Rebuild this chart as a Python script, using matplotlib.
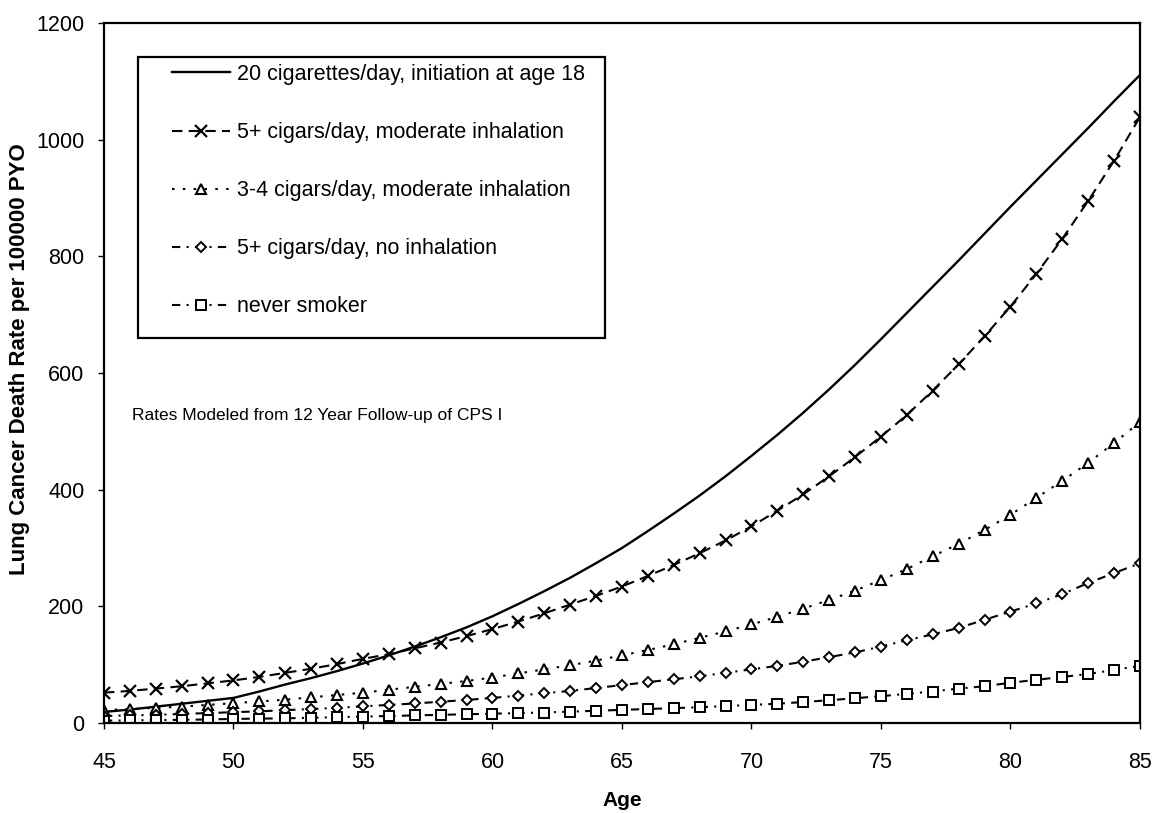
import matplotlib
matplotlib.use("Agg")
import matplotlib.pyplot as plt
from matplotlib.patches import Rectangle

plt.rcParams['font.family'] = ['Liberation Sans', 'DejaVu Sans']

# ages 45..85
ages = list(range(45, 86))

cigarettes = [19, 23, 28, 33, 38, 43, 54, 66, 77, 89, 102, 116, 131, 147, 164,
              183, 204, 226, 249, 274, 300, 329, 359, 390, 423, 458, 494, 532,
              572, 614, 658, 703, 748, 793, 839, 885, 930, 975, 1020, 1066, 1111]

cigars5_mod = [52, 55, 59, 63, 68, 73, 79, 86, 93, 101, 110, 118, 128, 138, 149,
               161, 174, 188, 203, 218, 234, 252, 271, 291, 313, 337, 364, 392,
               423, 456, 491, 528, 570, 615, 663, 714, 770, 830, 895, 964, 1039]

cigars34_mod = [22, 24, 26, 28, 31, 34, 37, 40, 44, 48, 52, 57, 62, 67, 72,
                78, 85, 92, 99, 107, 116, 125, 135, 146, 157, 169, 182, 196,
                211, 227, 245, 264, 286, 307, 331, 357, 386, 415, 446, 480, 516]

cigars5_noinh = [12, 13, 14, 15.5, 17, 18.5, 20, 22, 24, 26, 28.5, 31, 33.5, 36.5,
                 39.5, 43, 47, 51, 55, 60, 65, 70, 75, 80, 86, 92, 98, 105, 113,
                 121, 131, 142, 152, 163, 177, 191, 205, 221, 240, 257, 274]

never = [4, 4.5, 5, 5.5, 6, 7, 7.5, 8, 9, 10, 11, 12, 13, 14, 15, 16, 17, 18,
         19.5, 21, 22.5, 24, 25.5, 27, 29, 31, 33, 36, 39, 42.5, 46, 50, 54,
         59, 63, 69, 74, 79, 84, 91, 98]

labels = ['20 cigarettes/day, initiation at age 18',
          '5+ cigars/day, moderate inhalation',
          '3-4 cigars/day, moderate inhalation',
          '5+ cigars/day, no inhalation',
          'never smoker']

fig = plt.figure(figsize=(11.55, 8.13), dpi=100)
ax = fig.add_axes([0.090, 0.1107, 0.897, 0.861])

ax.plot(ages, cigarettes, color='black', lw=1.7, label=labels[0])
ax.plot(ages, cigars5_mod, color='black', lw=1.5, ls=(0, (5, 3)),
        marker='x', ms=8, mew=1.6, label=labels[1])
ax.plot(ages, cigars34_mod, color='black', lw=1.5, ls=(0, (1.2, 4)),
        marker='^', ms=6.5, mew=1.5, mfc='white', label=labels[2])
ax.plot(ages, cigars5_noinh, color='black', lw=1.5, ls=(0, (4, 3, 1, 3)),
        marker='D', ms=5, mew=1.4, mfc='white', label=labels[3])
ax.plot(ages, never, color='black', lw=1.5, ls=(0, (4, 3, 1, 3)),
        marker='s', ms=7, mew=1.4, mfc='white', label=labels[4])

ax.set_xlim(45, 85)
ax.set_ylim(0, 1200)
ax.set_xticks(range(45, 86, 5))
ax.set_yticks(range(0, 1201, 200))
ax.tick_params(labelsize=15.5, length=4, width=1, direction='out')
ax.tick_params(axis='x', pad=17)
ax.tick_params(axis='y', pad=10)
for s in ax.spines.values():
    s.set_linewidth(1.6)

ax.set_xlabel('Age', fontsize=15, fontweight='bold')
ax.xaxis.set_label_coords(0.5, -0.097)
ax.set_ylabel('Lung Cancer Death Rate per 100000 PYO', fontsize=16,
              fontweight='bold')
ax.yaxis.set_label_coords(-0.071, 0.52)

ax.text(46.08, 528, 'Rates Modeled from 12 Year Follow-up of CPS I',
        fontsize=12.5, va='center', ha='left')

# legend box drawn separately so its padding can match the original
ax.add_patch(Rectangle((0.0328, 0.55), 0.4508, 0.4014, transform=ax.transAxes,
                       facecolor='white', edgecolor='black', lw=1.6, zorder=4))
leg = ax.legend(loc='upper left', bbox_to_anchor=(0.0656, 0.9414),
                borderaxespad=0, borderpad=0, fontsize=15.5, frameon=False,
                handlelength=2.7, handletextpad=0.33, labelspacing=1.72)
leg.set_zorder(5)

fig.savefig('out.png', dpi=100)
